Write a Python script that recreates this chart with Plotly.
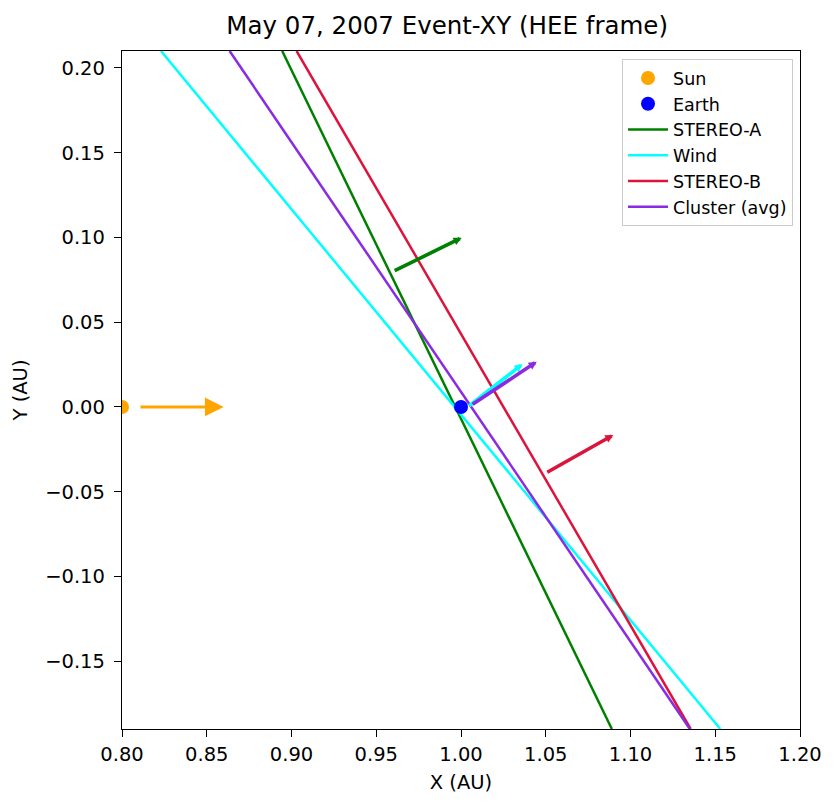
import plotly.graph_objects as go

# ---------------- data ----------------
title_text = "May 07, 2007 Event-XY (HEE frame)"
x_range = [0.80, 1.20]
y_range = [-0.19, 0.21]
x_ticks = [0.80, 0.85, 0.90, 0.95, 1.00, 1.05, 1.10, 1.15, 1.20]
y_ticks = [-0.15, -0.10, -0.05, 0.00, 0.05, 0.10, 0.15, 0.20]

sun_x = [0.80]
sun_y = [0.00]
earth_x = [1.00]
earth_y = [0.00]
sun_arrow_tail = [0.81, 0.00]
sun_arrow_tip = [0.86, 0.00]

names = ["STEREO-A", "Wind", "STEREO-B", "Cluster (avg)"]
colors = ["#008000", "#00FFFF", "#DC143C", "#8A2BE2"]
# discontinuity lines: x at the top (y=0.21) and bottom (y=-0.19) edges
line_y = [0.21, -0.19]
line_x_stereo_a = [0.8945, 1.0890]
line_x_wind = [0.8230, 1.1530]
line_x_stereo_b = [0.9030, 1.1355]
line_x_cluster = [0.8635, 1.1350]
line_xs = [line_x_stereo_a, line_x_wind, line_x_stereo_b, line_x_cluster]

# normal arrows (tail -> tip)
arrow_tail_x = [0.960, 1.004, 1.050, 1.006]
arrow_tail_y = [0.080, 0.000, -0.039, 0.001]
arrow_tip_x = [1.0004, 1.0363, 1.0899, 1.0447]
arrow_tip_y = [0.0998, 0.0253, -0.0165, 0.0267]

FONT = "DejaVu Sans"

fig = go.Figure()

fig.add_trace(go.Scatter(
    x=sun_x, y=sun_y, mode="markers", name="Sun", legendrank=1,
    marker=dict(color="#FFA500", size=14),
))
for i, (nm, col, lx) in enumerate(zip(names, colors, line_xs)):
    fig.add_trace(go.Scatter(
        x=lx, y=line_y, mode="lines", name=nm, legendrank=3 + i,
        line=dict(color=col, width=2.5),
    ))
fig.add_trace(go.Scatter(
    x=earth_x, y=earth_y, mode="markers", name="Earth", legendrank=2,
    marker=dict(color="#0000FF", size=14),
))

annotations = []
annotations.append(dict(
    x=sun_arrow_tip[0], y=sun_arrow_tip[1], ax=sun_arrow_tail[0], ay=sun_arrow_tail[1],
    xref="x", yref="y", axref="x", ayref="y", text="", showarrow=True,
    arrowhead=2, arrowsize=1.25, arrowwidth=3, arrowcolor="#FFA500",
))
for i, col in enumerate(colors):
    annotations.append(dict(
        x=arrow_tip_x[i], y=arrow_tip_y[i], ax=arrow_tail_x[i], ay=arrow_tail_y[i],
        xref="x", yref="y", axref="x", ayref="y", text="", showarrow=True,
        arrowhead=2, arrowsize=0.45, arrowwidth=3.6, arrowcolor=col,
    ))

axis_common = dict(
    showline=True, linecolor="black", linewidth=1.3, mirror=True,
    ticks="outside", ticklen=7, tickwidth=1.3, tickcolor="black",
    showgrid=False, zeroline=False, tickformat=".2f",
    tickfont=dict(family=FONT, size=19.5, color="black"),
)

fig.update_layout(
    width=839, height=808,
    margin=dict(l=122, r=39, t=51, b=79),
    paper_bgcolor="white", plot_bgcolor="white",
    font=dict(family=FONT, color="black"),
    title=dict(text=title_text, x=0.533, xref="container", xanchor="center",
               y=1 - 25 / 808, yref="container", yanchor="middle",
               font=dict(family=FONT, size=24.5, color="black")),
    xaxis=dict(range=x_range, tickvals=x_ticks,
               title=dict(text="X (AU)", standoff=10,
                          font=dict(family=FONT, size=19.5, color="black")),
               **axis_common),
    yaxis=dict(range=y_range, tickvals=y_ticks, ticklabelstandoff=5,
               title=dict(text="Y (AU)", standoff=12,
                          font=dict(family=FONT, size=19.5, color="black")),
               **axis_common),
    legend=dict(x=0.9897, xanchor="right", y=0.988, yanchor="top",
                bordercolor="#cccccc", borderwidth=1, itemwidth=40,
                bgcolor="rgba(255,255,255,0.8)",
                font=dict(family=FONT, size=17.5, color="black")),
    showlegend=True,
    annotations=annotations,
)

fig.write_html("out.html", config={"displayModeBar": False},
               post_script="document.body.style.margin='0px';")
